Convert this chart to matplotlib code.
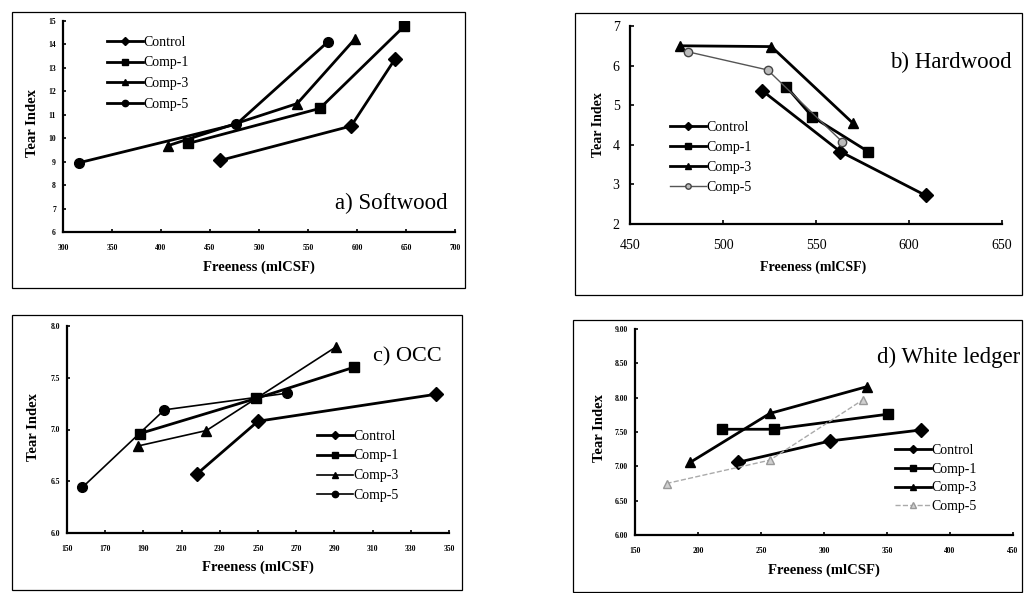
import matplotlib
matplotlib.use("Agg")
import matplotlib.pyplot as plt
from matplotlib.patches import Rectangle

plt.rcParams["font.family"] = ["Liberation Serif", "DejaVu Serif"]

W, H = 1025, 593
SERIES = ["Control", "Comp-1", "Comp-3", "Comp-5"]

# a) Softwood
soft_x = {
    "Control": [460, 594, 639],
    "Comp-1": [428, 562, 648],
    "Comp-3": [407, 539, 598],
    "Comp-5": [316, 477, 570],
}
soft_y = {
    "Control": [9.05, 10.52, 13.39],
    "Comp-1": [9.78, 11.27, 14.77],
    "Comp-3": [9.68, 11.48, 14.24],
    "Comp-5": [8.95, 10.6, 14.1],
}

# b) Hardwood
hard_x = {
    "Control": [521, 563, 609],
    "Comp-1": [534, 548, 578],
    "Comp-3": [477, 526, 570],
    "Comp-5": [481, 524, 564],
}
hard_y = {
    "Control": [5.37, 3.83, 2.72],
    "Comp-1": [5.47, 4.71, 3.83],
    "Comp-3": [6.5, 6.48, 4.54],
    "Comp-5": [6.35, 5.89, 4.08],
}

# c) OCC
occ_x = {
    "Control": [218, 250, 343],
    "Comp-1": [188, 249, 300],
    "Comp-3": [187, 223, 291],
    "Comp-5": [158, 201, 265],
}
occ_y = {
    "Control": [6.57, 7.08, 7.34],
    "Comp-1": [6.96, 7.3, 7.6],
    "Comp-3": [6.84, 6.99, 7.8],
    "Comp-5": [6.44, 7.19, 7.35],
}

# d) White ledger
wl_x = {
    "Control": [232, 305, 377],
    "Comp-1": [219, 260, 351],
    "Comp-3": [194, 257, 334],
    "Comp-5": [175, 257, 331],
}
wl_y = {
    "Control": [7.06, 7.37, 7.53],
    "Comp-1": [7.54, 7.54, 7.76],
    "Comp-3": [7.06, 7.77, 8.16],
    "Comp-5": [6.75, 7.09, 7.97],
}

MARKERS = {"Control": "D", "Comp-1": "s", "Comp-3": "^", "Comp-5": "o"}


def px_axes(fig, x0, y0, x1, y1):
    return fig.add_axes([x0 / W, 1 - y1 / H, (x1 - x0) / W, (y1 - y0) / H])


def frame(fig, x0, y0, x1, y1):
    fig.patches.append(Rectangle((x0 / W, 1 - y1 / H), (x1 - x0) / W, (y1 - y0) / H,
                                 transform=fig.transFigure, fill=False,
                                 edgecolor="black", linewidth=0.9))


def base_style(ax, small_ticks=True):
    for s in ("top", "right"):
        ax.spines[s].set_visible(False)
    for s in ("left", "bottom"):
        ax.spines[s].set_linewidth(1.6)
    if small_ticks:
        ax.tick_params(axis="both", labelsize=5.5, length=2.5, width=1.2, direction="in")
        ax.tick_params(axis="x", pad=8.5)
        ax.tick_params(axis="y", pad=5)
        for lab in ax.get_xticklabels() + ax.get_yticklabels():
            lab.set_fontweight("bold")
    else:
        ax.tick_params(axis="both", labelsize=10, length=3, width=1.2, direction="in")
        ax.tick_params(axis="x", pad=11)
        ax.tick_params(axis="y", pad=7.5)


def labels(ax, xl, yl, fs_x=10.5, fs_y=10.5):
    ax.set_xlabel("Freeness (mlCSF)", fontsize=fs_x, fontweight="bold")
    ax.set_ylabel("Tear Index", fontsize=fs_y, fontweight="bold")
    ax.xaxis.set_label_coords(*xl)
    ax.yaxis.set_label_coords(*yl)
    ax.xaxis.label.set_va("center")
    ax.yaxis.label.set_va("center")


def plot_series(ax, xs, ys, styles):
    for name in SERIES:
        st = dict(color="black", linewidth=2.0, marker=MARKERS[name], markersize=7,
                  markerfacecolor="black", markeredgecolor="black")
        st.update(styles.get(name, {}))
        ax.plot(xs[name], ys[name], label=name, **st)


def legend(ax, x, y, spacing=0.55):
    ax.legend(loc="upper left", bbox_to_anchor=(x, y), frameon=False, fontsize=10,
              handlelength=2.6, handletextpad=0.0, labelspacing=spacing,
              borderpad=0, borderaxespad=0, markerscale=0.65)


fig = plt.figure(figsize=(W / 100, H / 100), dpi=100)

# ---- a) Softwood
frame(fig, 12, 12, 465, 288)
ax = px_axes(fig, 63, 21, 455, 232)
plot_series(ax, soft_x, soft_y, {})
ax.set_xlim(300, 700)
ax.set_ylim(6, 15)
ax.set_xticks(range(300, 701, 50))
ax.set_yticks(range(6, 16))
base_style(ax)
labels(ax, (0.5, -0.166), (-0.077, 0.517))
legend(ax, 0.112, 0.93)
ax.text(0.982, 0.137, "a) Softwood", transform=ax.transAxes, ha="right", va="center", fontsize=16.5)

# ---- b) Hardwood
frame(fig, 575, 13, 1022, 295)
ax = px_axes(fig, 630, 26, 1002, 224)
plot_series(ax, hard_x, hard_y, {
    "Comp-5": dict(color="#555555", linewidth=1.0, markersize=6,
                   markerfacecolor="#bbbbbb", markeredgecolor="#444444"),
})
ax.set_xlim(450, 650)
ax.set_ylim(2, 7)
ax.set_xticks(range(450, 651, 50))
ax.set_yticks(range(2, 8))
base_style(ax, small_ticks=False)
labels(ax, (0.492, -0.217), (-0.086, 0.5), fs_x=10, fs_y=10)
legend(ax, 0.108, 0.52, spacing=0.5)
ax.text(1.027, 0.818, "b) Hardwood", transform=ax.transAxes, ha="right", va="center", fontsize=16.5)

# ---- c) OCC
frame(fig, 12, 315, 462, 590)
ax = px_axes(fig, 67, 326, 449, 533)
plot_series(ax, occ_x, occ_y, {
    "Comp-3": dict(linewidth=1.2),
    "Comp-5": dict(linewidth=1.2),
})
ax.set_xlim(150, 350)
ax.set_ylim(6.0, 8.0)
ax.set_xticks(range(150, 351, 20))
ax.set_yticks([6.0, 6.5, 7.0, 7.5, 8.0])
ax.set_yticklabels(["6.0", "6.5", "7.0", "7.5", "8.0"])
base_style(ax)
labels(ax, (0.5, -0.164), (-0.089, 0.512))
legend(ax, 0.654, 0.5, spacing=0.5)
ax.text(0.982, 0.85, "c) OCC", transform=ax.transAxes, ha="right", va="center", fontsize=16)

# ---- d) White ledger
frame(fig, 573, 320, 1022, 592)
ax = px_axes(fig, 635, 329, 1013, 535)
plot_series(ax, wl_x, wl_y, {
    "Comp-5": dict(color="#aaaaaa", linewidth=1.0, linestyle="--", markersize=6,
                   markerfacecolor="#d0d0d0", markeredgecolor="#999999", marker="^"),
})
ax.set_xlim(150, 450)
ax.set_ylim(6.0, 9.0)
ax.set_xticks(range(150, 451, 50))
ax.set_yticks([6.0, 6.5, 7.0, 7.5, 8.0, 8.5, 9.0])
ax.set_yticklabels(["6.00", "6.50", "7.00", "7.50", "8.00", "8.50", "9.00"])
base_style(ax)
labels(ax, (0.5, -0.17), (-0.095, 0.52))
legend(ax, 0.688, 0.44, spacing=0.4)
ax.text(0.64, 0.86, "d) White ledger", transform=ax.transAxes, ha="left", va="center", fontsize=16.5)

fig.savefig("out.png", dpi=100)
